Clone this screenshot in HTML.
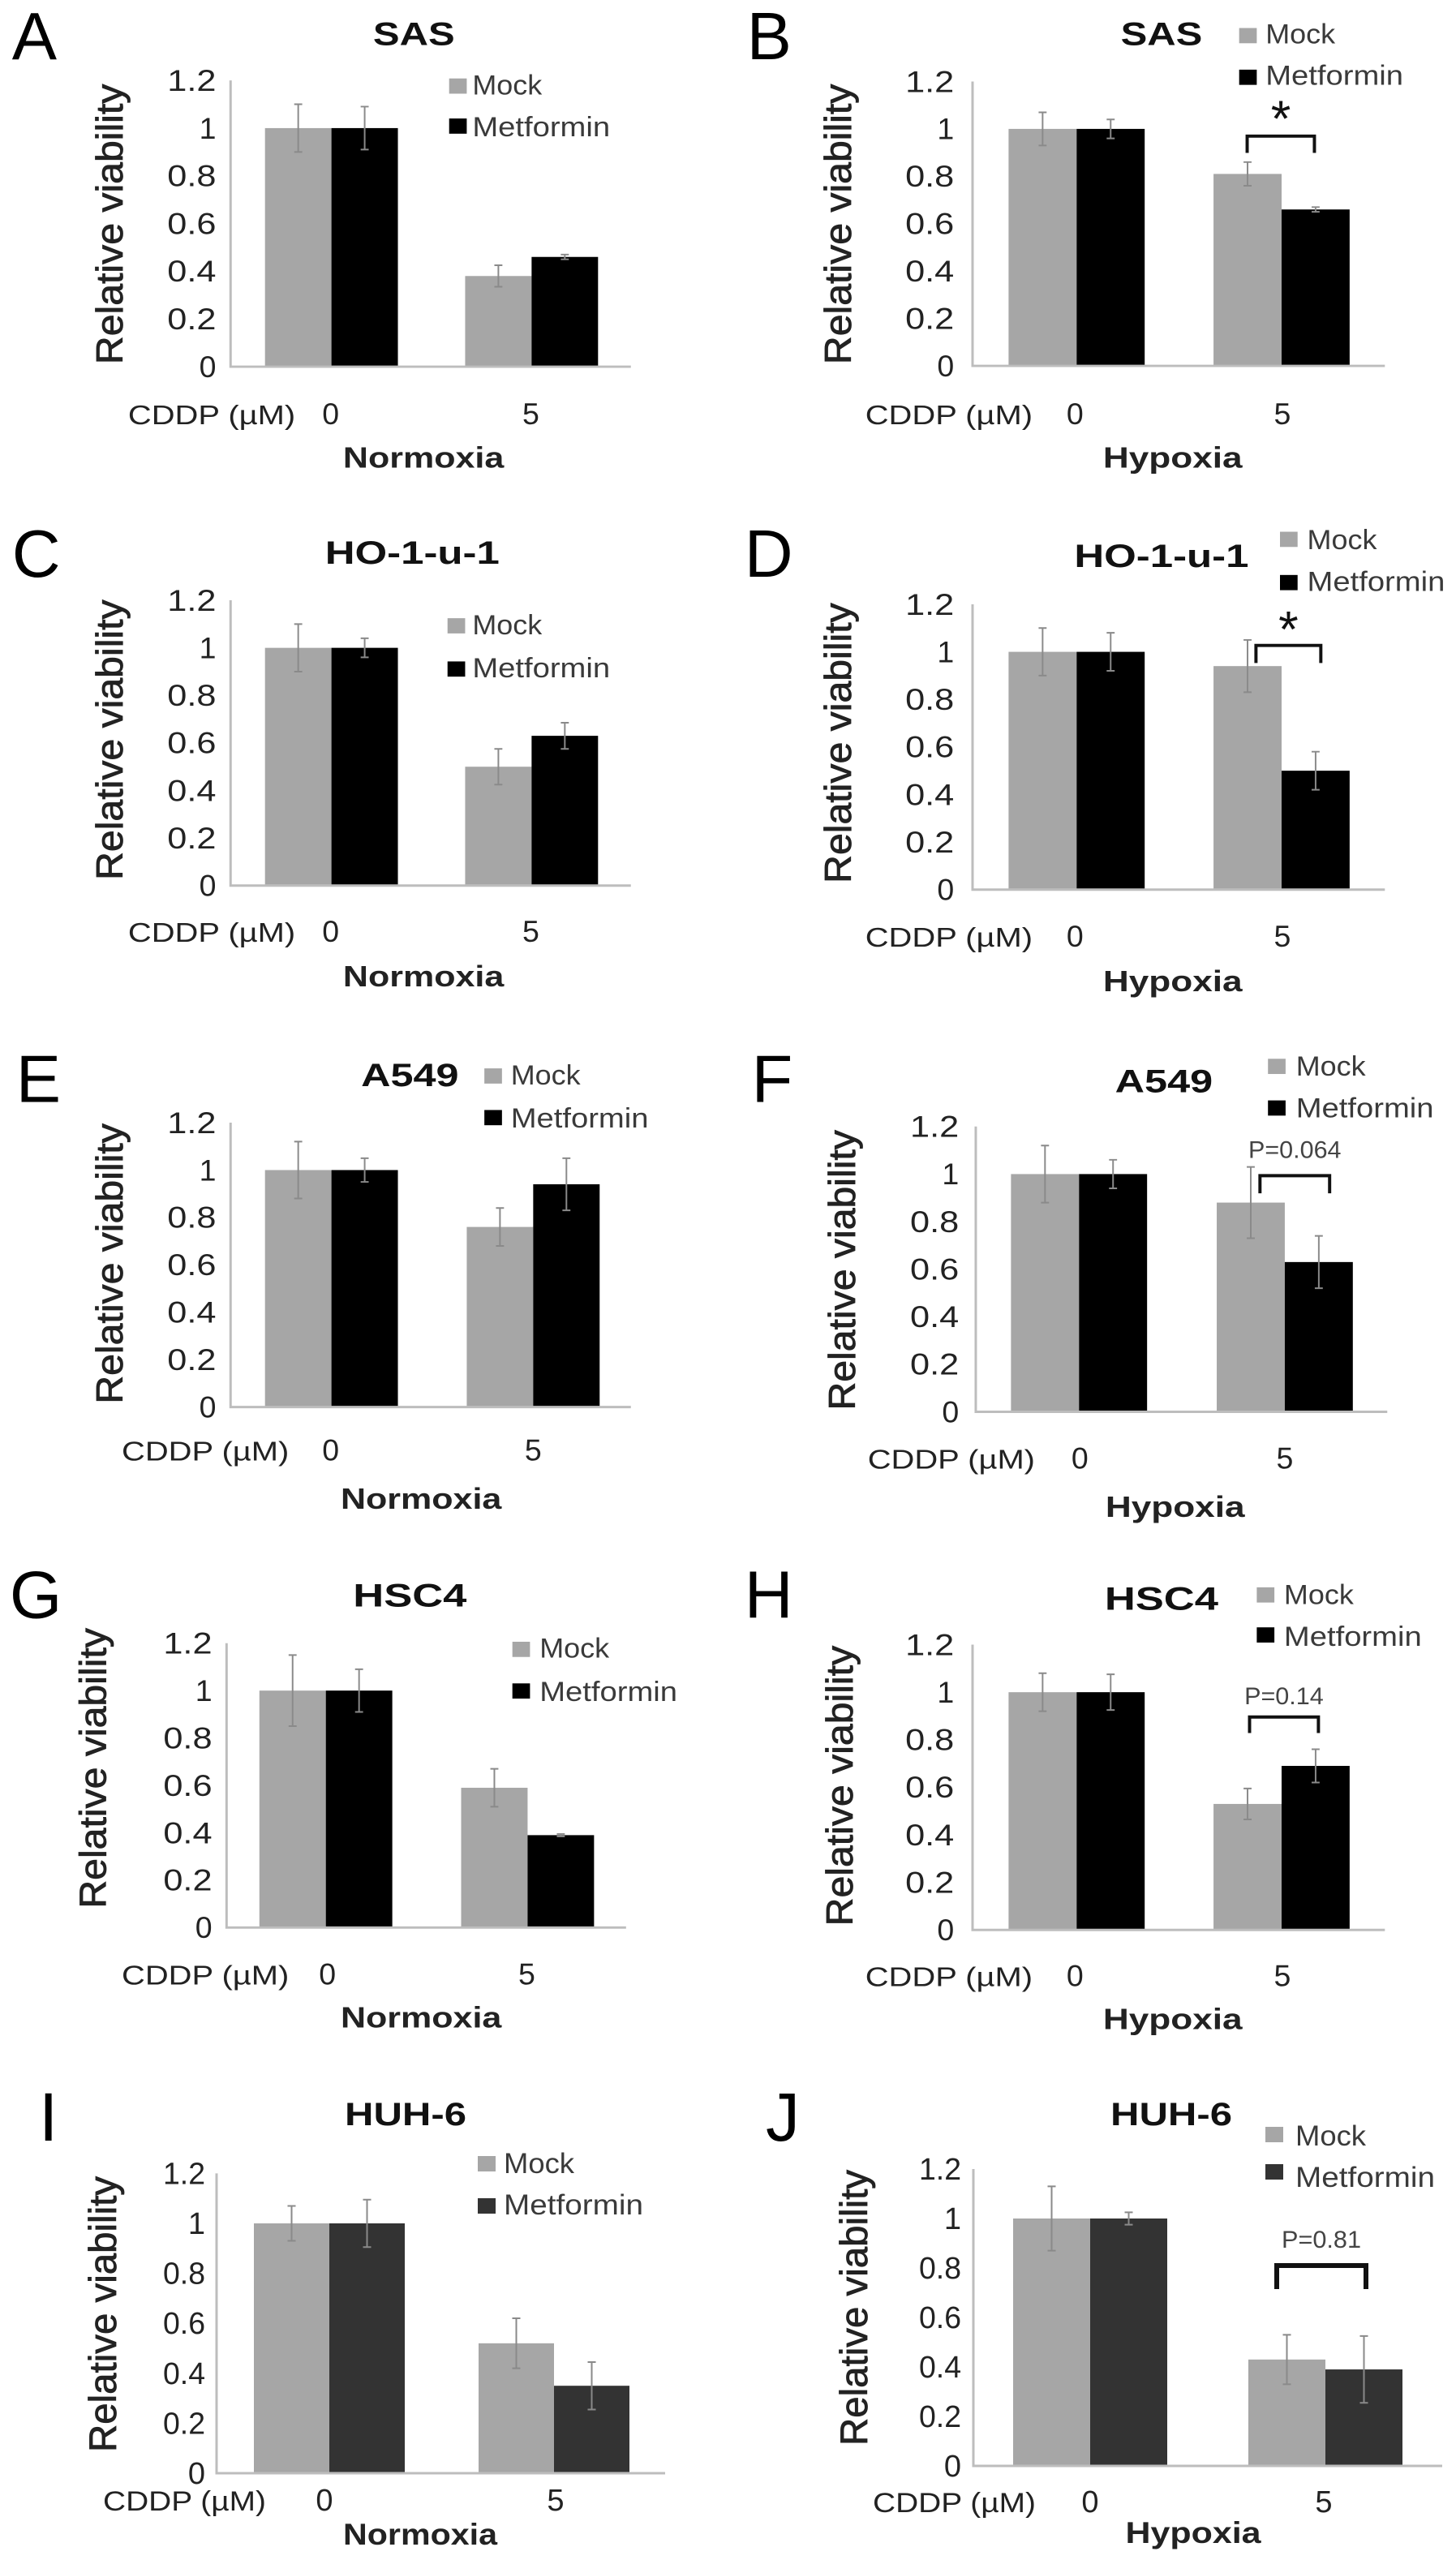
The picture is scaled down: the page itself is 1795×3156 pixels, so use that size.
<!DOCTYPE html>
<html><head><meta charset="utf-8"><title>Relative viability panels</title>
<style>
html,body{margin:0;padding:0;background:#fff;}
svg{display:block;font-family:"Liberation Sans",Arial,sans-serif;}
</style></head>
<body>
<svg id="fig" xmlns="http://www.w3.org/2000/svg" width="1795" height="3156" viewBox="0 0 1795 3156"></svg>
<script>
// ---- data ----
const categories = ["0", "5"];
const yTicks = [0, 0.2, 0.4, 0.6, 0.8, 1, 1.2];
const yTickLabels = ["0", "0.2", "0.4", "0.6", "0.8", "1", "1.2"];
const seriesNames = ["Mock", "Metformin"];

const mockA = [1, 0.38];  const metA = [1, 0.46];  const mockErrA = [0.10, 0.045]; const metErrA = [0.09, 0.01];
const mockB = [1, 0.81];  const metB = [1, 0.66];  const mockErrB = [0.07, 0.05];  const metErrB = [0.04, 0.01];
const mockC = [1, 0.50];  const metC = [1, 0.63];  const mockErrC = [0.10, 0.075]; const metErrC = [0.04, 0.055];
const mockD = [1, 0.94];  const metD = [1, 0.50];  const mockErrD = [0.10, 0.11];  const metErrD = [0.08, 0.08];
const mockE = [1, 0.76];  const metE = [1, 0.94];  const mockErrE = [0.12, 0.08];  const metErrE = [0.05, 0.11];
const mockF = [1, 0.88];  const metF = [1, 0.63];  const mockErrF = [0.12, 0.15];  const metErrF = [0.06, 0.11];
const mockG = [1, 0.59];  const metG = [1, 0.39];  const mockErrG = [0.15, 0.08];  const metErrG = [0.09, 0.005];
const mockH = [1, 0.53];  const metH = [1, 0.69];  const mockErrH = [0.08, 0.065]; const metErrH = [0.075, 0.07];
const mockI = [1, 0.52];  const metI = [1, 0.35];  const mockErrI = [0.07, 0.10];  const metErrI = [0.095, 0.095];
const mockJ = [1, 0.43];  const metJ = [1, 0.39];  const mockErrJ = [0.13, 0.10];  const metErrJ = [0.025, 0.135];

const panelLetters = ["A","B","C","D","E","F","G","H","I","J"];
const panelTitles = ["SAS","SAS","HO-1-u-1","HO-1-u-1","A549","A549","HSC4","HSC4","HUH-6","HUH-6"];
const panelConditions = ["Normoxia","Hypoxia","Normoxia","Hypoxia","Normoxia","Hypoxia","Normoxia","Hypoxia","Normoxia","Hypoxia"];
const panelSig = ["", "*", "", "*", "", "P=0.064", "", "P=0.14", "", "P=0.81"];

// ---- layout (pixel geometry, not data) ----
const NS = "http://www.w3.org/2000/svg";
const svg = document.getElementById("fig");
const data = [
  [mockA, metA, mockErrA, metErrA],[mockB, metB, mockErrB, metErrB],
  [mockC, metC, mockErrC, metErrC],[mockD, metD, mockErrD, metErrD],
  [mockE, metE, mockErrE, metErrE],[mockF, metF, mockErrF, metErrF],
  [mockG, metG, mockErrG, metErrG],[mockH, metH, mockErrH, metErrH],
  [mockI, metI, mockErrI, metErrI],[mockJ, metJ, mockErrJ, metErrJ]
];
const L = [
 {o:[0,0],s:0.987, x0:288,zero:458,unit:298,xEnd:788,g:[331,581],bw:83,tr:270,ylx:137,yly:280,tx:517,tb:54,tw:102,lx:15,lb:74,cx:160,cb:530,c0:413,c5:663,kx:529,kb:584,kw:201,sx:561,st:[98,148],tt:590,bl:[118,170]},
 {o:[895,0],s:0.987, x0:1203,zero:457,unit:296,xEnd:1718,g:[1248,1504],bw:85,tr:1180,ylx:1035,yly:280,tx:1439,tb:54,tw:102,lx:921,lb:74,cx:1069,cb:530,c0:1331,c5:1590,kx:1453,kb:584,kw:174,sx:1536,st:[35,87],tt:1569,bl:[54,106],br:[1546,1630,170,191],sy:140},
 {o:[0,620],s:0.987, x0:288,zero:1098,unit:297,xEnd:788,g:[331,581],bw:83,tr:270,ylx:137,yly:916,tx:515,tb:694,tw:218,lx:15,lb:712,cx:160,cb:1168,c0:413,c5:663,kx:529,kb:1224,kw:201,sx:559,st:[764,818],tt:590,bl:[784,838]},
 {o:[895,620],s:0.987, x0:1203,zero:1103,unit:297,xEnd:1718,g:[1248,1504],bw:85,tr:1180,ylx:1035,yly:920,tx:1439,tb:698,tw:218,lx:918,lb:712,cx:1069,cb:1174,c0:1331,c5:1590,kx:1453,kb:1230,kw:174,sx:1587,st:[656,710],tt:1621,bl:[678,730],br:[1557,1638,798,820],sy:770},
 {o:[0,1250],s:0.987, x0:288,zero:1741,unit:296,xEnd:788,g:[331,583],bw:83,tr:270,ylx:137,yly:1562,tx:512,tb:1338,tw:122,lx:20,lb:1360,cx:152,cb:1808,c0:413,c5:666,kx:526,kb:1868,kw:201,sx:605,st:[1318,1370],tt:638,bl:[1338,1392]},
 {o:[895,1250],s:0.987, x0:1207,zero:1747,unit:297,xEnd:1721,g:[1251,1508],bw:85,tr:1186,ylx:1040,yly:1570,tx:1442,tb:1346,tw:122,lx:927,lb:1360,cx:1072,cb:1818,c0:1337,c5:1593,kx:1456,kb:1878,kw:174,sx:1572,st:[1306,1358],tt:1607,bl:[1327,1379],br:[1562,1649,1452,1474],sy:1430,pw:116},
 {o:[0,1870],s:0.987, x0:283,zero:2383,unit:296,xEnd:782,g:[324,576],bw:83,tr:265,ylx:116,yly:2184,tx:512,tb:1980,tw:142,lx:12,lb:1996,cx:152,cb:2454,c0:409,c5:658,kx:526,kb:2508,kw:201,sx:640,st:[2026,2078],tt:674,bl:[2046,2100]},
 {o:[895,1870],s:0.987, x0:1203,zero:2386,unit:297,xEnd:1718,g:[1248,1504],bw:85,tr:1180,ylx:1037,yly:2206,tx:1439,tb:1984,tw:142,lx:918,lb:1996,cx:1069,cb:2456,c0:1331,c5:1590,kx:1453,kb:2510,kw:174,sx:1558,st:[1958,2008],tt:1592,bl:[1979,2031],br:[1549,1635,2120,2140],sy:2104,pw:99},
 {o:[0,2500],s:1, dark:true, x0:267,zero:3049,unit:308,xEnd:820,g:[313,590],bw:93,tr:253,ylx:127,yly:2853,tx:500,tb:2618,tw:150,lx:48,lb:2639,cx:127,cb:3095,c0:400,c5:685,kx:518,kb:3137,kw:190,sx:589,st:[2658,2710],tt:621,bl:[2679,2730]},
 {o:[0,2500],s:1, dark:true, x0:1200,zero:3040,unit:305,xEnd:1778,g:[1249,1539],bw:95,tr:1185,ylx:1053,yly:2845,tx:1444,tb:2618,tw:150,lx:944,lb:2639,cx:1076,cb:3097,c0:1344,c5:1632,kx:1471,kb:3135,kw:167,sx:1560,st:[2622,2668],tt:1597,bl:[2645,2696],br:[1574,1684,2793,2822],sy:2771,pw:98,thick:true}
];

function mk(tag, attrs, parent){
  const e = document.createElementNS(NS, tag);
  for (const k in attrs) e.setAttribute(k, attrs[k]);
  parent.appendChild(e);
  return e;
}
function txt(parent, x, y, s, size, opts){
  const t = mk("text", {x:x, y:y, "font-size":size, fill:opts.fill||"#1a1a1a"}, parent);
  if (opts.weight) t.setAttribute("font-weight", opts.weight);
  if (opts.anchor) t.setAttribute("text-anchor", opts.anchor);
  if (opts.len){ t.setAttribute("textLength", opts.len); t.setAttribute("lengthAdjust","spacingAndGlyphs"); }
  if (opts.transform) t.setAttribute("transform", opts.transform);
  if (opts.stroke){ t.setAttribute("stroke", opts.fill||"#1a1a1a"); t.setAttribute("stroke-width", opts.stroke); }
  t.textContent = s;
  return t;
}

L.forEach((p, i) => {
  const [mock, met, mockErr, metErr] = data[i];
  const g = mk("g", {transform:`translate(${p.o[0]},${p.o[1]}) scale(${p.s}) translate(${-p.o[0]},${-p.o[1]})`}, svg);
  
  
  const yS = v => p.zero - v * p.unit;
  const xS = (gi, si) => p.g[gi] + si * p.bw;
  const grayC = "#a6a6a6", blackC = p.dark ? "#333333" : "#000000";

  const letter = txt(g, p.lx, p.lb, panelLetters[i], 84, {fill:"#000"});
  
  

  const title = txt(g, p.tx, p.tb + 2, panelTitles[i], 40, {weight:"bold", anchor:"middle", len:p.tw, fill:"#111"});
  
  

  const yl = txt(g, 0, 0, "Relative viability", 47, {anchor:"middle", len: p.dark ? 340 : 350, fill:"#222", stroke:0.8, transform:`translate(${p.ylx + 16},${p.yly}) rotate(-90)`});
  
  

  yTicks.forEach((v, k) => {
    const lab = yTickLabels[k];
    const o = {anchor:"end", fill:"#222"};
    if (lab.length > 1) o.len = p.dark ? 52 : 61;
    const t = txt(g, p.tr, yS(v) + 13, lab, 38, o);
    
    
  });

  // bars
  const series = [[mock, mockErr, grayC, "mock"], [met, metErr, blackC, "metformin"]];
  series.forEach((sr, si) => {
    categories.forEach((c, gi) => {
      const v = sr[0][gi], e = sr[1][gi];
      const x = xS(gi, si);
      const r = mk("rect", {x:x, y:yS(v), width:p.bw, height:v * p.unit, fill:sr[2]}, g);
      
      
      const cx = x + p.bw / 2;
      const eb = mk("path", {d:`M${cx},${yS(v+e)}V${yS(v-e)}M${cx-5},${yS(v+e)}H${cx+5}M${cx-5},${yS(v-e)}H${cx+5}`, stroke:"#8a8a8a", "stroke-width":2, fill:"none"}, g);
      
      
    });
  });

  const ax = mk("path", {d:`M${p.x0},${yS(1.2)}V${p.zero}H${p.xEnd}`, stroke:"#bdbdbd", "stroke-width":3, fill:"none"}, g);
  
  

  const cd = txt(g, p.cx, p.cb, "CDDP (\u00b5M)", 34, {len: p.dark ? 201 : 209, fill:"#222"});
  
  
  [p.c0, p.c5].forEach((x, k) => {
    const t = txt(g, x, p.cb, categories[k], 38, {anchor:"middle", fill:"#222"});
    
    
  });
  const cond = txt(g, p.kx, p.kb, panelConditions[i], 37, {weight:"bold", anchor:"middle", len:p.kw, fill:"#222"});
  
  

  // legend
  [grayC, blackC].forEach((col, k) => {
    const sq = mk("rect", {x:p.sx, y:p.st[k], width:22, height:19, fill:col}, g);
    
    
    const t = txt(g, p.tt, p.bl[k], seriesNames[k], 35, {len: k ? 172 : 87, fill:"#3a3a3a"});
    
    
  });

  // significance bracket
  if (p.br) {
    const [a, b, top, bot] = p.br;
    const br = mk("path", {d:`M${a},${bot}V${top}H${b}V${bot}`, stroke:"#111", "stroke-width": p.thick ? 6 : 4, fill:"none"}, g);
    
    
    const mid = (a + b) / 2;
    let s;
    if (panelSig[i] === "*") s = txt(g, mid, p.sy + 30, "*", 64, {anchor:"middle", fill:"#111"});
    else s = txt(g, mid, p.sy, panelSig[i], 30, {anchor:"middle", len:p.pw, fill:"#444"});
    
    
  }
});
</script>
</body></html>
